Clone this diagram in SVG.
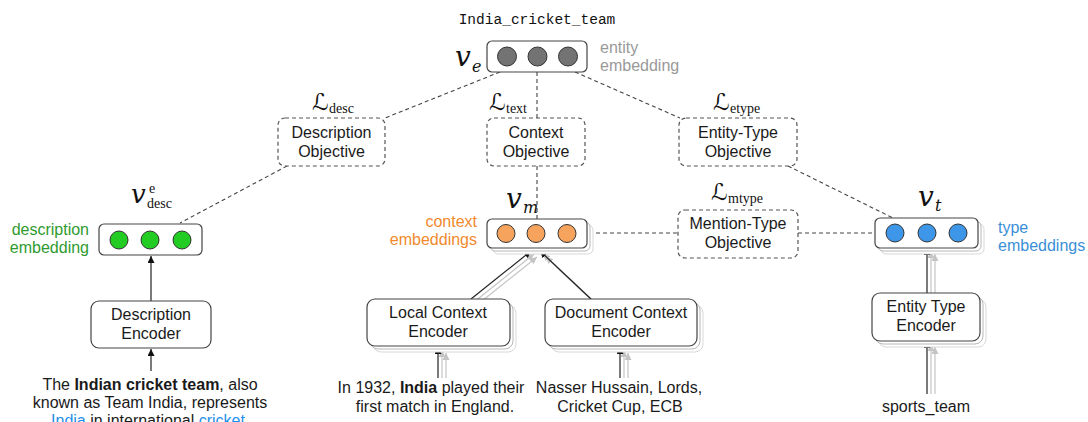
<svg xmlns="http://www.w3.org/2000/svg" width="1088" height="422" viewBox="0 0 1088 422">
<style>
.t{font-family:"Liberation Sans",Arial,sans-serif;font-size:16px;fill:#1a1a1a}
.mid{text-anchor:middle}
.box{fill:#fff;stroke:#444;stroke-width:1.2}
.obj{fill:#fff;stroke:#555;stroke-width:1.2;stroke-dasharray:4 3}
.sh1{fill:#fff;stroke:#b8b8b8;stroke-width:1}
.sh2{fill:#fff;stroke:#d8d8d8;stroke-width:1}
.dash{stroke:#444;stroke-width:1.1;stroke-dasharray:4 3;fill:none}
.arr{stroke:#222;stroke-width:1.2;fill:none;marker-end:url(#ah)}
.garr{stroke:#c4c4c4;stroke-width:1.2;fill:none;marker-end:url(#gah)}
.math{font-family:"DejaVu Serif","Liberation Serif",serif;font-style:italic;fill:#111}
.cal{font-family:"DejaVu Serif","DejaVu Sans",serif;fill:#111;font-size:23px}
.sub{font-family:"Liberation Serif","DejaVu Serif",serif;fill:#111;font-size:14px}
.cg{fill:#737373;stroke:#333;stroke-width:1}
.cgr{fill:#22cc22;stroke:#333;stroke-width:1}
.co{fill:#f6a35e;stroke:#333;stroke-width:1}
.cb{fill:#3d96e8;stroke:#333;stroke-width:1}
</style>
<defs>
<marker id="ah" viewBox="0 0 10 10" refX="10" refY="5" markerWidth="7" markerHeight="7" markerUnits="userSpaceOnUse" orient="auto"><path d="M0,0 L10,5 L0,10 z" fill="#111"/></marker>
<marker id="gah" viewBox="0 0 10 10" refX="10" refY="5" markerWidth="7" markerHeight="7" markerUnits="userSpaceOnUse" orient="auto"><path d="M0,0 L10,5 L0,10 z" fill="#c4c4c4"/></marker>
</defs>

<g id="connectors">
<line class="dash" x1="500" y1="72" x2="385" y2="118"/>
<line class="dash" x1="537" y1="72" x2="537" y2="118"/>
<line class="dash" x1="575" y1="72" x2="680" y2="118"/>
<line class="dash" x1="287" y1="166" x2="180" y2="223"/>
<line class="dash" x1="537" y1="166" x2="537" y2="219"/>
<line class="dash" x1="788" y1="166" x2="893" y2="218"/>
<line class="dash" x1="596" y1="233" x2="678" y2="233"/>
<line class="dash" x1="798" y1="233" x2="875" y2="233"/>
<line class="arr" x1="151" y1="301" x2="151" y2="256"/>
<line class="arr" x1="151" y1="371" x2="151" y2="349"/>
<line class="garr" x1="477" y1="305" x2="537" y2="257"/>
<line class="garr" x1="474" y1="302" x2="534" y2="254"/>
<line class="arr" x1="471" y1="299" x2="531" y2="251"/>
<line class="garr" x1="597" y1="305" x2="546" y2="257"/>
<line class="garr" x1="594" y1="302" x2="543" y2="254"/>
<line class="arr" x1="591" y1="299" x2="540" y2="251"/>
<line class="garr" x1="446" y1="378" x2="446" y2="353"/>
<line class="garr" x1="442" y1="378" x2="442" y2="350"/>
<line class="arr" x1="438" y1="378" x2="438" y2="347"/>
<line class="garr" x1="628" y1="378" x2="628" y2="353"/>
<line class="garr" x1="624" y1="378" x2="624" y2="350"/>
<line class="arr" x1="620" y1="378" x2="620" y2="347"/>
<line class="garr" x1="935" y1="299" x2="935" y2="254"/>
<line class="garr" x1="931" y1="296" x2="931" y2="251"/>
<line class="arr" x1="927" y1="293" x2="927" y2="248"/>
<line class="garr" x1="935" y1="394" x2="935" y2="347"/>
<line class="garr" x1="931" y1="394" x2="931" y2="344"/>
<line class="arr" x1="927" y1="394" x2="927" y2="341"/>
</g>

<g id="entity">
<text x="537" y="24" text-anchor="middle" font-family="Liberation Mono,monospace" font-size="14.5" fill="#111">India_cricket_team</text>
<rect class="box" x="487" y="41" width="100" height="31" rx="5"/>
<circle class="cg" cx="507" cy="56.5" r="9.5"/>
<circle class="cg" cx="537.5" cy="56.5" r="9.5"/>
<circle class="cg" cx="568" cy="56.5" r="9.5"/>
<text class="math" x="455" y="66" font-size="28">v</text>
<text class="math" x="472" y="72" font-size="16">e</text>
<text class="t" x="600" y="53" style="fill:#999">entity</text>
<text class="t" x="600" y="71" style="fill:#999">embedding</text>
</g>

<g id="desc-objective">
<text class="cal" x="312" y="110">ℒ</text><text class="sub" x="329" y="113">desc</text>
<rect class="obj" x="278" y="118" width="107" height="48" rx="7"/>
<text class="t mid" x="331.5" y="138">Description</text>
<text class="t mid" x="331.5" y="157">Objective</text>
</g>

<g id="context-objective">
<text class="cal" x="489" y="110">ℒ</text><text class="sub" x="506" y="113">text</text>
<rect class="obj" x="487" y="118" width="98" height="48" rx="7"/>
<text class="t mid" x="536" y="138">Context</text>
<text class="t mid" x="536" y="157">Objective</text>
</g>

<g id="etype-objective">
<text class="cal" x="713" y="110">ℒ</text><text class="sub" x="730" y="113">etype</text>
<rect class="obj" x="679" y="118" width="118" height="48" rx="7"/>
<text class="t mid" x="738" y="138">Entity-Type</text>
<text class="t mid" x="738" y="157">Objective</text>
</g>

<g id="mtype-objective">
<text class="cal" x="711" y="200">ℒ</text><text class="sub" x="728" y="203">mtype</text>
<rect class="obj" x="678" y="210" width="120" height="48" rx="7"/>
<text class="t mid" x="738" y="229">Mention-Type</text>
<text class="t mid" x="738" y="248">Objective</text>
</g>

<g id="desc-embedding">
<text class="math" x="131" y="203" font-size="26">v</text>
<text class="sub" x="149" y="193" font-size="12">e</text>
<text class="sub" x="147" y="208">desc</text>
<rect class="box" x="99" y="224" width="103" height="31" rx="5"/>
<circle class="cgr" cx="119" cy="240" r="9"/>
<circle class="cgr" cx="150" cy="240" r="9"/>
<circle class="cgr" cx="182" cy="240" r="9"/>
<text class="t" x="89" y="235" text-anchor="end" style="fill:#2f9a2f">description</text>
<text class="t" x="89" y="253" text-anchor="end" style="fill:#2f9a2f">embedding</text>
</g>

<g id="context-embedding">
<text class="math" x="506" y="208" font-size="28">v</text>
<text class="math" x="523" y="213" font-size="16">m</text>
<rect class="sh2" x="493" y="225" width="100" height="29" rx="5"/>
<rect class="sh1" x="490" y="222" width="100" height="29" rx="5"/>
<rect class="box" x="487" y="219" width="100" height="29" rx="5"/>
<circle class="co" cx="506" cy="233.5" r="9"/>
<circle class="co" cx="536" cy="233.5" r="9"/>
<circle class="co" cx="567" cy="233.5" r="9"/>
<text class="t" x="477" y="227" text-anchor="end" style="fill:#f08a2c">context</text>
<text class="t" x="477" y="245" text-anchor="end" style="fill:#f08a2c">embeddings</text>
</g>

<g id="type-embedding">
<text class="math" x="918" y="206" font-size="28">v</text>
<text class="math" x="935" y="211" font-size="16">t</text>
<rect class="sh2" x="881" y="224" width="103" height="30" rx="5"/>
<rect class="sh1" x="878" y="221" width="103" height="30" rx="5"/>
<rect class="box" x="875" y="218" width="103" height="30" rx="5"/>
<circle class="cb" cx="895" cy="233" r="9"/>
<circle class="cb" cx="927" cy="233" r="9"/>
<circle class="cb" cx="958" cy="233" r="9"/>
<text class="t" x="998" y="233" style="fill:#3a8fd8">type</text>
<text class="t" x="998" y="251" style="fill:#3a8fd8">embeddings</text>
</g>

<g id="desc-encoder">
<rect class="box" x="91" y="301" width="120" height="47" rx="8"/>
<text class="t mid" x="151" y="320">Description</text>
<text class="t mid" x="151" y="339">Encoder</text>
<text class="t mid" x="150" y="390">The <tspan font-weight="bold">Indian cricket team</tspan>, also</text>
<text class="t mid" x="150" y="408">known as Team India, represents</text>
<text class="t mid" x="148" y="426"><tspan style="fill:#1f8fe8">India</tspan> in international <tspan style="fill:#1f8fe8">cricket</tspan></text>
</g>

<g id="local-encoder">
<rect class="sh2" x="373" y="305" width="143" height="47" rx="8"/>
<rect class="sh1" x="370" y="302" width="143" height="47" rx="8"/>
<rect class="box" x="367" y="299" width="143" height="47" rx="8"/>
<text class="t mid" x="438" y="318">Local Context</text>
<text class="t mid" x="438" y="337">Encoder</text>
<text class="t mid" x="431" y="393">In 1932, <tspan font-weight="bold">India</tspan> played their</text>
<text class="t mid" x="435" y="412">first match in England.</text>
</g>

<g id="doc-encoder">
<rect class="sh2" x="551" y="305" width="152" height="47" rx="8"/>
<rect class="sh1" x="548" y="302" width="152" height="47" rx="8"/>
<rect class="box" x="545" y="299" width="152" height="47" rx="8"/>
<text class="t mid" x="621" y="318">Document Context</text>
<text class="t mid" x="621" y="337">Encoder</text>
<text class="t mid" x="619" y="393">Nasser Hussain, Lords,</text>
<text class="t mid" x="620" y="412">Cricket Cup, ECB</text>
</g>

<g id="type-encoder">
<rect class="sh2" x="878" y="299" width="108" height="48" rx="8"/>
<rect class="sh1" x="875" y="296" width="108" height="48" rx="8"/>
<rect class="box" x="872" y="293" width="108" height="48" rx="8"/>
<text class="t mid" x="926" y="312">Entity Type</text>
<text class="t mid" x="926" y="331">Encoder</text>
<text class="t mid" x="926" y="412">sports_team</text>
</g>
</svg>
